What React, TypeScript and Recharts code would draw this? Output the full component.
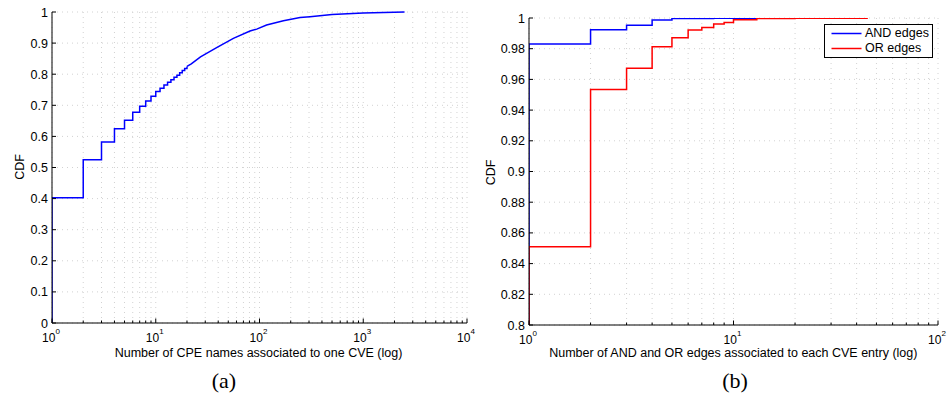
import React from "react";
import { LineChart, Line, XAxis, YAxis, CartesianGrid, Legend } from "recharts";

// (a) CPE names per CVE - stepped head of the ECDF, then the dense tail
const cpeStepCounts = [1, 1, 2, 3, 4, 5, 6, 7, 8, 9, 10, 11, 12, 13, 14, 15, 16, 17, 18, 19, 20];
const cpeStepCdf = [0, 0.403, 0.525, 0.582, 0.625, 0.652, 0.678, 0.697, 0.714, 0.729, 0.744, 0.755, 0.765, 0.774, 0.782, 0.79, 0.797, 0.805, 0.812, 0.818, 0.825];
const cpeTailCounts = [20, 22, 27, 39, 56, 81, 94, 117, 170, 246, 307, 500, 1000, 2500];
const cpeTailCdf = [0.825, 0.833, 0.856, 0.886, 0.915, 0.939, 0.945, 0.958, 0.972, 0.982, 0.985, 0.992, 0.997, 1.0];

// (b) AND / OR edges per CVE entry
const andCounts = [1, 1, 2, 3, 4, 5, 8, 15];
const andCdf = [0, 0.983, 0.9923, 0.9952, 0.9987, 0.9996, 0.9999, 1.0];
const orCounts = [1, 1, 2, 3, 4, 5, 6, 7, 8, 9, 10, 13, 20, 45];
const orCdf = [0, 0.851, 0.9535, 0.9673, 0.9813, 0.9872, 0.9922, 0.9938, 0.9961, 0.9971, 0.9988, 0.9996, 0.9999, 1.0];

// axis ticks
const decadesA = [1, 10, 100, 1000];
const decadesB = [1, 10];
const minorSteps = [1, 2, 3, 4, 5, 6, 7, 8, 9];
const yTicksA = [0, 0.1, 0.2, 0.3, 0.4, 0.5, 0.6, 0.7, 0.8, 0.9, 1];
const yTicksB = [0.8, 0.82, 0.84, 0.86, 0.88, 0.9, 0.92, 0.94, 0.96, 0.98, 1];

const logTicks = (decades: number[]) => [
  ...decades.flatMap((d) => minorSteps.map((m) => m * d)),
  decades[decades.length - 1] * 10,
];
const xTicksA = logTicks(decadesA);
const xTicksB = logTicks(decadesB);

const toPoints = (xs: number[], ys: number[]) => xs.map((x, i) => ({ x, cdf: ys[i] }));

const isMajor = (v: number) => Math.abs(Math.log10(v) - Math.round(Math.log10(v))) < 1e-9;

const FONT = 12.5;

function BottomTick(props: any) {
  const { x = 0, y = 0, payload } = props;
  const v = payload?.value ?? 1;
  const major = isMajor(v);
  return (
    <g>
      <line x1={x} x2={x} y1={y} y2={y - (major ? 4.5 : 2.5)} stroke="#000" />
      {major && (
        <text x={x - 1} y={y + 18.5} textAnchor="middle" fontSize={12} fill="#000">
          10
          <tspan dy={-8} fontSize={8}>
            {Math.round(Math.log10(v))}
          </tspan>
        </text>
      )}
    </g>
  );
}

function TopTick(props: any) {
  const { x = 0, y = 0, payload } = props;
  const major = isMajor(payload?.value ?? 1);
  return <line x1={x} x2={x} y1={y} y2={y + (major ? 4.5 : 2.5)} stroke="#000" />;
}

function LeftTick(props: any) {
  const { x = 0, y = 0, payload } = props;
  return (
    <g>
      <line x1={x} x2={x + 4} y1={y} y2={y} stroke="#000" />
      <text x={x - 4} y={y + 4.5} textAnchor="end" fontSize={FONT} fill="#000">
        {String(payload?.value)}
      </text>
    </g>
  );
}

function RightTick(props: any) {
  const { x = 0, y = 0 } = props;
  return <line x1={x} x2={x - 4} y1={y} y2={y} stroke="#000" />;
}

function LegendBox(props: any) {
  const items = props.payload || [];
  return (
    <div
      style={{
        border: "1px solid #000",
        background: "#fff",
        width: 107,
        padding: "1px 0",
        fontSize: FONT,
        lineHeight: "15px",
        color: "#000",
      }}
    >
      {items.map((it: any) => (
        <div key={it.value} style={{ display: "flex", alignItems: "center", height: 15 }}>
          <svg width={40} height={15} style={{ display: "block" }}>
            <line x1={6.5} x2={36.5} y1={7.5} y2={7.5} stroke={it.color} strokeWidth={1.5} />
          </svg>
          <span>{it.value}</span>
        </div>
      ))}
    </div>
  );
}

const axisLine = { stroke: "#000", strokeWidth: 1 };
const gridProps = { stroke: "#d2d2d2", strokeDasharray: "1 4" };

export default function App() {
  return (
    <div
      style={{
        position: "absolute",
        left: 0,
        top: 0,
        width: 950,
        height: 400,
        background: "#fff",
        fontFamily: '"Liberation Sans", Arial, sans-serif',
      }}
    >
      <div style={{ position: "absolute", left: 0, top: 0 }}>
        <LineChart width={480} height={400} margin={{ top: 12, right: 13, bottom: 47, left: 12 }}>
          <CartesianGrid {...gridProps} />
          <XAxis
            dataKey="x"
            type="number"
            scale="log"
            domain={[1, 10000]}
            allowDataOverflow
            ticks={xTicksA}
            interval={0}
            height={30}
            tickSize={0}
            tickMargin={0}
            tickLine={false}
            axisLine={axisLine}
            tick={<BottomTick />}
          />
          <XAxis
            xAxisId="top"
            orientation="top"
            dataKey="x"
            type="number"
            scale="log"
            domain={[1, 10000]}
            allowDataOverflow
            ticks={xTicksA}
            interval={0}
            height={0}
            tickSize={0}
            tickMargin={0}
            tickLine={false}
            axisLine={axisLine}
            tick={<TopTick />}
          />
          <YAxis
            type="number"
            domain={[0, 1]}
            ticks={yTicksA}
            interval={0}
            width={40}
            tickSize={0}
            tickMargin={0}
            tickLine={false}
            axisLine={axisLine}
            tick={<LeftTick />}
          />
          <YAxis
            yAxisId="right"
            orientation="right"
            type="number"
            domain={[0, 1]}
            ticks={yTicksA}
            interval={0}
            width={0}
            tickSize={0}
            tickMargin={0}
            tickLine={false}
            axisLine={axisLine}
            tick={<RightTick />}
          />
          <Line
            data={toPoints(cpeStepCounts, cpeStepCdf)}
            dataKey="cdf"
            type="stepAfter"
            stroke="#0000ff"
            strokeWidth={1.5}
            dot={false}
            isAnimationActive={false}
          />
          <Line
            data={toPoints(cpeTailCounts, cpeTailCdf)}
            dataKey="cdf"
            type="linear"
            stroke="#0000ff"
            strokeWidth={1.5}
            dot={false}
            isAnimationActive={false}
          />
        </LineChart>
      </div>

      <div style={{ position: "absolute", left: 480, top: 0 }}>
        <LineChart width={470} height={400} margin={{ top: 18, right: 12, bottom: 45, left: 5 }}>
          <CartesianGrid {...gridProps} />
          <XAxis
            dataKey="x"
            type="number"
            scale="log"
            domain={[1, 100]}
            allowDataOverflow
            ticks={xTicksB}
            interval={0}
            height={30}
            tickSize={0}
            tickMargin={0}
            tickLine={false}
            axisLine={axisLine}
            tick={<BottomTick />}
          />
          <XAxis
            xAxisId="top"
            orientation="top"
            dataKey="x"
            type="number"
            scale="log"
            domain={[1, 100]}
            allowDataOverflow
            ticks={xTicksB}
            interval={0}
            height={0}
            tickSize={0}
            tickMargin={0}
            tickLine={false}
            axisLine={axisLine}
            tick={<TopTick />}
          />
          <YAxis
            type="number"
            domain={[0.8, 1]}
            allowDataOverflow
            ticks={yTicksB}
            interval={0}
            width={44}
            tickSize={0}
            tickMargin={0}
            tickLine={false}
            axisLine={axisLine}
            tick={<LeftTick />}
          />
          <YAxis
            yAxisId="right"
            orientation="right"
            type="number"
            domain={[0.8, 1]}
            allowDataOverflow
            ticks={yTicksB}
            interval={0}
            width={0}
            tickSize={0}
            tickMargin={0}
            tickLine={false}
            axisLine={axisLine}
            tick={<RightTick />}
          />
          <Line
            name="AND edges"
            data={toPoints(andCounts, andCdf)}
            dataKey="cdf"
            type="stepAfter"
            stroke="#0000ff"
            strokeWidth={1.5}
            dot={false}
            isAnimationActive={false}
          />
          <Line
            name="OR edges"
            data={toPoints(orCounts, orCdf)}
            dataKey="cdf"
            type="stepAfter"
            stroke="#ff0000"
            strokeWidth={1.5}
            dot={false}
            isAnimationActive={false}
          />
          <Legend
            layout="vertical"
            align="center"
            verticalAlign="middle"
            wrapperStyle={{ left: 344, top: 24, width: "auto", height: "auto" }}
            content={<LegendBox />}
          />
        </LineChart>
      </div>

      <svg
        width={950}
        height={400}
        style={{ position: "absolute", left: 0, top: 0, pointerEvents: "none" }}
      >
        <text x={23.5} y={167} transform="rotate(-90 23.5 167)" textAnchor="middle" fontSize={FONT} fill="#000">
          CDF
        </text>
        <text x={494.5} y={172.5} transform="rotate(-90 494.5 172.5)" textAnchor="middle" fontSize={FONT} fill="#000">
          CDF
        </text>
        <text x={258.5} y={357} textAnchor="middle" fontSize={FONT} fill="#000">
          Number of CPE names associated to one CVE (log)
        </text>
        <text x={733.3} y={357} textAnchor="middle" fontSize={FONT} fill="#000">
          Number of AND and OR edges associated to each CVE entry (log)
        </text>
        <text x={224} y={388} textAnchor="middle" fontSize={22} fontFamily='"Liberation Serif", "Times New Roman", serif' fill="#000">
          (a)
        </text>
        <text x={735} y={388} textAnchor="middle" fontSize={22} fontFamily='"Liberation Serif", "Times New Roman", serif' fill="#000">
          (b)
        </text>
      </svg>
    </div>
  );
}
